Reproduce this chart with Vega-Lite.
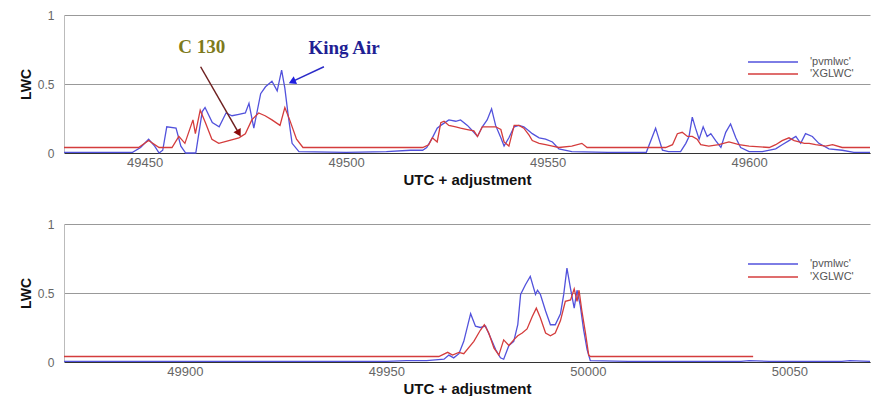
{
  "$schema": "https://vega.github.io/schema/vega-lite/v6.json",
  "padding": {"left": 19, "top": 9, "right": 0, "bottom": 0},
  "background": "white",
  "spacing": 71,
  "bounds": "flush",
  "resolve": {"scale": {"x": "independent", "y": "independent", "color": "independent"}, "legend": {"color": "independent"}},
  "config": {
    "view": {"stroke": null},
    "font": "Liberation Sans",
    "axis": {"labelColor": "#666", "titleColor": "#111", "titleFontWeight": "bold", "ticks": false, "grid": false},
    "line": {"strokeWidth": 1.3}
  },
  "datasets": {
    "top": [
      {"series": "'pvmlwc'", "t": 49430, "lwc": 0.005},
      {"series": "'pvmlwc'", "t": 49447, "lwc": 0.005},
      {"series": "'pvmlwc'", "t": 49449, "lwc": 0.04},
      {"series": "'pvmlwc'", "t": 49451, "lwc": 0.10},
      {"series": "'pvmlwc'", "t": 49452.5, "lwc": 0.05},
      {"series": "'pvmlwc'", "t": 49453.6, "lwc": 0.0},
      {"series": "'pvmlwc'", "t": 49454.5, "lwc": 0.02},
      {"series": "'pvmlwc'", "t": 49455.5, "lwc": 0.19},
      {"series": "'pvmlwc'", "t": 49457.8, "lwc": 0.18},
      {"series": "'pvmlwc'", "t": 49459, "lwc": 0.05},
      {"series": "'pvmlwc'", "t": 49460.2, "lwc": 0.0},
      {"series": "'pvmlwc'", "t": 49462.7, "lwc": 0.0},
      {"series": "'pvmlwc'", "t": 49464.3, "lwc": 0.30},
      {"series": "'pvmlwc'", "t": 49465, "lwc": 0.33},
      {"series": "'pvmlwc'", "t": 49466.8, "lwc": 0.22},
      {"series": "'pvmlwc'", "t": 49468.5, "lwc": 0.19},
      {"series": "'pvmlwc'", "t": 49470.2, "lwc": 0.29},
      {"series": "'pvmlwc'", "t": 49471.7, "lwc": 0.27},
      {"series": "'pvmlwc'", "t": 49473.4, "lwc": 0.28},
      {"series": "'pvmlwc'", "t": 49475, "lwc": 0.29},
      {"series": "'pvmlwc'", "t": 49475.9, "lwc": 0.36},
      {"series": "'pvmlwc'", "t": 49477.1, "lwc": 0.18},
      {"series": "'pvmlwc'", "t": 49478.8, "lwc": 0.43},
      {"series": "'pvmlwc'", "t": 49480, "lwc": 0.48},
      {"series": "'pvmlwc'", "t": 49481.6, "lwc": 0.52},
      {"series": "'pvmlwc'", "t": 49482.9, "lwc": 0.45},
      {"series": "'pvmlwc'", "t": 49484, "lwc": 0.60},
      {"series": "'pvmlwc'", "t": 49484.8, "lwc": 0.47},
      {"series": "'pvmlwc'", "t": 49485.6, "lwc": 0.28},
      {"series": "'pvmlwc'", "t": 49486.6, "lwc": 0.07},
      {"series": "'pvmlwc'", "t": 49488.3, "lwc": 0.01},
      {"series": "'pvmlwc'", "t": 49500, "lwc": 0.005},
      {"series": "'pvmlwc'", "t": 49510, "lwc": 0.01},
      {"series": "'pvmlwc'", "t": 49516, "lwc": 0.02},
      {"series": "'pvmlwc'", "t": 49519, "lwc": 0.02},
      {"series": "'pvmlwc'", "t": 49520, "lwc": 0.04},
      {"series": "'pvmlwc'", "t": 49521.4, "lwc": 0.11},
      {"series": "'pvmlwc'", "t": 49522.6, "lwc": 0.18},
      {"series": "'pvmlwc'", "t": 49523.5, "lwc": 0.20},
      {"series": "'pvmlwc'", "t": 49525.5, "lwc": 0.24},
      {"series": "'pvmlwc'", "t": 49527.2, "lwc": 0.23},
      {"series": "'pvmlwc'", "t": 49528.4, "lwc": 0.24},
      {"series": "'pvmlwc'", "t": 49530.1, "lwc": 0.20},
      {"series": "'pvmlwc'", "t": 49531.7, "lwc": 0.15},
      {"series": "'pvmlwc'", "t": 49532.6, "lwc": 0.12},
      {"series": "'pvmlwc'", "t": 49533.8, "lwc": 0.19},
      {"series": "'pvmlwc'", "t": 49535, "lwc": 0.24},
      {"series": "'pvmlwc'", "t": 49536.1, "lwc": 0.32},
      {"series": "'pvmlwc'", "t": 49537.1, "lwc": 0.20},
      {"series": "'pvmlwc'", "t": 49538.4, "lwc": 0.11},
      {"series": "'pvmlwc'", "t": 49539.2, "lwc": 0.05},
      {"series": "'pvmlwc'", "t": 49540.4, "lwc": 0.11},
      {"series": "'pvmlwc'", "t": 49541.7, "lwc": 0.19},
      {"series": "'pvmlwc'", "t": 49542.9, "lwc": 0.20},
      {"series": "'pvmlwc'", "t": 49544.1, "lwc": 0.19},
      {"series": "'pvmlwc'", "t": 49545.4, "lwc": 0.16},
      {"series": "'pvmlwc'", "t": 49546.2, "lwc": 0.14},
      {"series": "'pvmlwc'", "t": 49547.9, "lwc": 0.11},
      {"series": "'pvmlwc'", "t": 49549.5, "lwc": 0.10},
      {"series": "'pvmlwc'", "t": 49551.2, "lwc": 0.08},
      {"series": "'pvmlwc'", "t": 49552.8, "lwc": 0.03},
      {"series": "'pvmlwc'", "t": 49556, "lwc": 0.01},
      {"series": "'pvmlwc'", "t": 49565, "lwc": 0.005},
      {"series": "'pvmlwc'", "t": 49574.5, "lwc": 0.005},
      {"series": "'pvmlwc'", "t": 49576.8, "lwc": 0.18},
      {"series": "'pvmlwc'", "t": 49578.5, "lwc": 0.02},
      {"series": "'pvmlwc'", "t": 49580, "lwc": 0.01},
      {"series": "'pvmlwc'", "t": 49583, "lwc": 0.01},
      {"series": "'pvmlwc'", "t": 49584.3, "lwc": 0.07},
      {"series": "'pvmlwc'", "t": 49585.1, "lwc": 0.12},
      {"series": "'pvmlwc'", "t": 49585.9, "lwc": 0.26},
      {"series": "'pvmlwc'", "t": 49586.7, "lwc": 0.18},
      {"series": "'pvmlwc'", "t": 49587.6, "lwc": 0.10},
      {"series": "'pvmlwc'", "t": 49588.6, "lwc": 0.19},
      {"series": "'pvmlwc'", "t": 49589.6, "lwc": 0.12},
      {"series": "'pvmlwc'", "t": 49590.5, "lwc": 0.14},
      {"series": "'pvmlwc'", "t": 49591.7, "lwc": 0.09},
      {"series": "'pvmlwc'", "t": 49593, "lwc": 0.04},
      {"series": "'pvmlwc'", "t": 49594.2, "lwc": 0.15},
      {"series": "'pvmlwc'", "t": 49595.4, "lwc": 0.21},
      {"series": "'pvmlwc'", "t": 49596.7, "lwc": 0.11},
      {"series": "'pvmlwc'", "t": 49597.9, "lwc": 0.04},
      {"series": "'pvmlwc'", "t": 49600, "lwc": 0.01},
      {"series": "'pvmlwc'", "t": 49603.3, "lwc": 0.01},
      {"series": "'pvmlwc'", "t": 49606.6, "lwc": 0.03},
      {"series": "'pvmlwc'", "t": 49608.2, "lwc": 0.06},
      {"series": "'pvmlwc'", "t": 49609.9, "lwc": 0.09},
      {"series": "'pvmlwc'", "t": 49611.6, "lwc": 0.12},
      {"series": "'pvmlwc'", "t": 49612.8, "lwc": 0.07},
      {"series": "'pvmlwc'", "t": 49614, "lwc": 0.14},
      {"series": "'pvmlwc'", "t": 49615.7, "lwc": 0.12},
      {"series": "'pvmlwc'", "t": 49617.3, "lwc": 0.07},
      {"series": "'pvmlwc'", "t": 49619.8, "lwc": 0.03},
      {"series": "'pvmlwc'", "t": 49623.1, "lwc": 0.02},
      {"series": "'pvmlwc'", "t": 49626, "lwc": 0.005},
      {"series": "'pvmlwc'", "t": 49630, "lwc": 0.005},
      {"series": "'XGLWC'", "t": 49430, "lwc": 0.04},
      {"series": "'XGLWC'", "t": 49448.5, "lwc": 0.04},
      {"series": "'XGLWC'", "t": 49451, "lwc": 0.09},
      {"series": "'XGLWC'", "t": 49453.6, "lwc": 0.04},
      {"series": "'XGLWC'", "t": 49456.8, "lwc": 0.04},
      {"series": "'XGLWC'", "t": 49458.5, "lwc": 0.12},
      {"series": "'XGLWC'", "t": 49460, "lwc": 0.07},
      {"series": "'XGLWC'", "t": 49462, "lwc": 0.24},
      {"series": "'XGLWC'", "t": 49462.6, "lwc": 0.14},
      {"series": "'XGLWC'", "t": 49463.8, "lwc": 0.31},
      {"series": "'XGLWC'", "t": 49465.1, "lwc": 0.22},
      {"series": "'XGLWC'", "t": 49466.7, "lwc": 0.10},
      {"series": "'XGLWC'", "t": 49468.4, "lwc": 0.07},
      {"series": "'XGLWC'", "t": 49470.9, "lwc": 0.09},
      {"series": "'XGLWC'", "t": 49473.4, "lwc": 0.11},
      {"series": "'XGLWC'", "t": 49475, "lwc": 0.14},
      {"series": "'XGLWC'", "t": 49476.6, "lwc": 0.24},
      {"series": "'XGLWC'", "t": 49478.3, "lwc": 0.29},
      {"series": "'XGLWC'", "t": 49479.9, "lwc": 0.27},
      {"series": "'XGLWC'", "t": 49481.6, "lwc": 0.24},
      {"series": "'XGLWC'", "t": 49483.6, "lwc": 0.20},
      {"series": "'XGLWC'", "t": 49484.8, "lwc": 0.33},
      {"series": "'XGLWC'", "t": 49486, "lwc": 0.24},
      {"series": "'XGLWC'", "t": 49487.7, "lwc": 0.10},
      {"series": "'XGLWC'", "t": 49489.3, "lwc": 0.04},
      {"series": "'XGLWC'", "t": 49519, "lwc": 0.04},
      {"series": "'XGLWC'", "t": 49520.5, "lwc": 0.06},
      {"series": "'XGLWC'", "t": 49521.4, "lwc": 0.11},
      {"series": "'XGLWC'", "t": 49522.6, "lwc": 0.08},
      {"series": "'XGLWC'", "t": 49523.5, "lwc": 0.22},
      {"series": "'XGLWC'", "t": 49524.3, "lwc": 0.23},
      {"series": "'XGLWC'", "t": 49525.5, "lwc": 0.20},
      {"series": "'XGLWC'", "t": 49527.2, "lwc": 0.19},
      {"series": "'XGLWC'", "t": 49528.4, "lwc": 0.18},
      {"series": "'XGLWC'", "t": 49530.1, "lwc": 0.17},
      {"series": "'XGLWC'", "t": 49531.7, "lwc": 0.16},
      {"series": "'XGLWC'", "t": 49532.6, "lwc": 0.12},
      {"series": "'XGLWC'", "t": 49533.8, "lwc": 0.19},
      {"series": "'XGLWC'", "t": 49535, "lwc": 0.19},
      {"series": "'XGLWC'", "t": 49536.1, "lwc": 0.19},
      {"series": "'XGLWC'", "t": 49537.1, "lwc": 0.19},
      {"series": "'XGLWC'", "t": 49538.4, "lwc": 0.17},
      {"series": "'XGLWC'", "t": 49539.2, "lwc": 0.08},
      {"series": "'XGLWC'", "t": 49540.4, "lwc": 0.05},
      {"series": "'XGLWC'", "t": 49541.7, "lwc": 0.20},
      {"series": "'XGLWC'", "t": 49542.9, "lwc": 0.20},
      {"series": "'XGLWC'", "t": 49544.1, "lwc": 0.18},
      {"series": "'XGLWC'", "t": 49545.4, "lwc": 0.13},
      {"series": "'XGLWC'", "t": 49546.2, "lwc": 0.09},
      {"series": "'XGLWC'", "t": 49547.9, "lwc": 0.07},
      {"series": "'XGLWC'", "t": 49549.5, "lwc": 0.06},
      {"series": "'XGLWC'", "t": 49551.2, "lwc": 0.05},
      {"series": "'XGLWC'", "t": 49552.8, "lwc": 0.04},
      {"series": "'XGLWC'", "t": 49556, "lwc": 0.05},
      {"series": "'XGLWC'", "t": 49558.5, "lwc": 0.07},
      {"series": "'XGLWC'", "t": 49559.8, "lwc": 0.04},
      {"series": "'XGLWC'", "t": 49579.3, "lwc": 0.04},
      {"series": "'XGLWC'", "t": 49581, "lwc": 0.06},
      {"series": "'XGLWC'", "t": 49582.2, "lwc": 0.14},
      {"series": "'XGLWC'", "t": 49583.4, "lwc": 0.15},
      {"series": "'XGLWC'", "t": 49584.7, "lwc": 0.12},
      {"series": "'XGLWC'", "t": 49585.9, "lwc": 0.12},
      {"series": "'XGLWC'", "t": 49587.1, "lwc": 0.10},
      {"series": "'XGLWC'", "t": 49588, "lwc": 0.06},
      {"series": "'XGLWC'", "t": 49590, "lwc": 0.05},
      {"series": "'XGLWC'", "t": 49592.5, "lwc": 0.06},
      {"series": "'XGLWC'", "t": 49595, "lwc": 0.08},
      {"series": "'XGLWC'", "t": 49597.5, "lwc": 0.06},
      {"series": "'XGLWC'", "t": 49600, "lwc": 0.05},
      {"series": "'XGLWC'", "t": 49605, "lwc": 0.04},
      {"series": "'XGLWC'", "t": 49606.6, "lwc": 0.06},
      {"series": "'XGLWC'", "t": 49608.2, "lwc": 0.09},
      {"series": "'XGLWC'", "t": 49609.9, "lwc": 0.11},
      {"series": "'XGLWC'", "t": 49611.2, "lwc": 0.09},
      {"series": "'XGLWC'", "t": 49612.4, "lwc": 0.08},
      {"series": "'XGLWC'", "t": 49613.7, "lwc": 0.07},
      {"series": "'XGLWC'", "t": 49614.9, "lwc": 0.07},
      {"series": "'XGLWC'", "t": 49616.5, "lwc": 0.06},
      {"series": "'XGLWC'", "t": 49619, "lwc": 0.05},
      {"series": "'XGLWC'", "t": 49620.7, "lwc": 0.06},
      {"series": "'XGLWC'", "t": 49623.1, "lwc": 0.04},
      {"series": "'XGLWC'", "t": 49630, "lwc": 0.04}
    ],
    "bottom": [
      {"series": "'pvmlwc'", "t": 49870, "lwc": 0.005},
      {"series": "'pvmlwc'", "t": 49920, "lwc": 0.005},
      {"series": "'pvmlwc'", "t": 49950, "lwc": 0.005},
      {"series": "'pvmlwc'", "t": 49955, "lwc": 0.01},
      {"series": "'pvmlwc'", "t": 49960, "lwc": 0.01},
      {"series": "'pvmlwc'", "t": 49964.3, "lwc": 0.02},
      {"series": "'pvmlwc'", "t": 49965.5, "lwc": 0.05},
      {"series": "'pvmlwc'", "t": 49966.7, "lwc": 0.03},
      {"series": "'pvmlwc'", "t": 49968, "lwc": 0.06},
      {"series": "'pvmlwc'", "t": 49969.2, "lwc": 0.15},
      {"series": "'pvmlwc'", "t": 49970.9, "lwc": 0.35},
      {"series": "'pvmlwc'", "t": 49972.1, "lwc": 0.26},
      {"series": "'pvmlwc'", "t": 49973.3, "lwc": 0.25},
      {"series": "'pvmlwc'", "t": 49974.6, "lwc": 0.26},
      {"series": "'pvmlwc'", "t": 49975.8, "lwc": 0.18},
      {"series": "'pvmlwc'", "t": 49977.1, "lwc": 0.09},
      {"series": "'pvmlwc'", "t": 49978.3, "lwc": 0.03},
      {"series": "'pvmlwc'", "t": 49979.1, "lwc": 0.02},
      {"series": "'pvmlwc'", "t": 49980.4, "lwc": 0.12},
      {"series": "'pvmlwc'", "t": 49981.6, "lwc": 0.15},
      {"series": "'pvmlwc'", "t": 49982.6, "lwc": 0.27},
      {"series": "'pvmlwc'", "t": 49983.3, "lwc": 0.49},
      {"series": "'pvmlwc'", "t": 49984.5, "lwc": 0.56},
      {"series": "'pvmlwc'", "t": 49985.7, "lwc": 0.62},
      {"series": "'pvmlwc'", "t": 49987, "lwc": 0.49},
      {"series": "'pvmlwc'", "t": 49987.5, "lwc": 0.52},
      {"series": "'pvmlwc'", "t": 49988.2, "lwc": 0.49},
      {"series": "'pvmlwc'", "t": 49989.5, "lwc": 0.37},
      {"series": "'pvmlwc'", "t": 49990.7, "lwc": 0.27},
      {"series": "'pvmlwc'", "t": 49991.9, "lwc": 0.27},
      {"series": "'pvmlwc'", "t": 49993.2, "lwc": 0.35},
      {"series": "'pvmlwc'", "t": 49994, "lwc": 0.49},
      {"series": "'pvmlwc'", "t": 49994.8, "lwc": 0.68},
      {"series": "'pvmlwc'", "t": 49995.7, "lwc": 0.53},
      {"series": "'pvmlwc'", "t": 49996.6, "lwc": 0.39},
      {"series": "'pvmlwc'", "t": 49997.3, "lwc": 0.52},
      {"series": "'pvmlwc'", "t": 49998.1, "lwc": 0.41},
      {"series": "'pvmlwc'", "t": 49998.9, "lwc": 0.24},
      {"series": "'pvmlwc'", "t": 49999.8, "lwc": 0.09},
      {"series": "'pvmlwc'", "t": 50000.6, "lwc": 0.01},
      {"series": "'pvmlwc'", "t": 50010, "lwc": 0.005},
      {"series": "'pvmlwc'", "t": 50038, "lwc": 0.005},
      {"series": "'pvmlwc'", "t": 50040, "lwc": 0.01},
      {"series": "'pvmlwc'", "t": 50045, "lwc": 0.005},
      {"series": "'pvmlwc'", "t": 50063, "lwc": 0.005},
      {"series": "'pvmlwc'", "t": 50065, "lwc": 0.01},
      {"series": "'pvmlwc'", "t": 50070, "lwc": 0.005},
      {"series": "'XGLWC'", "t": 49870, "lwc": 0.04},
      {"series": "'XGLWC'", "t": 49963, "lwc": 0.04},
      {"series": "'XGLWC'", "t": 49965.2, "lwc": 0.07},
      {"series": "'XGLWC'", "t": 49966.4, "lwc": 0.05},
      {"series": "'XGLWC'", "t": 49968, "lwc": 0.07},
      {"series": "'XGLWC'", "t": 49969.2, "lwc": 0.06},
      {"series": "'XGLWC'", "t": 49971.7, "lwc": 0.15},
      {"series": "'XGLWC'", "t": 49973.3, "lwc": 0.23},
      {"series": "'XGLWC'", "t": 49974.3, "lwc": 0.27},
      {"series": "'XGLWC'", "t": 49975.4, "lwc": 0.21},
      {"series": "'XGLWC'", "t": 49976.7, "lwc": 0.10},
      {"series": "'XGLWC'", "t": 49977.9, "lwc": 0.05},
      {"series": "'XGLWC'", "t": 49979.1, "lwc": 0.16},
      {"series": "'XGLWC'", "t": 49980.4, "lwc": 0.12},
      {"series": "'XGLWC'", "t": 49981.6, "lwc": 0.16},
      {"series": "'XGLWC'", "t": 49982.6, "lwc": 0.19},
      {"series": "'XGLWC'", "t": 49983.7, "lwc": 0.21},
      {"series": "'XGLWC'", "t": 49984.9, "lwc": 0.24},
      {"series": "'XGLWC'", "t": 49986.2, "lwc": 0.33},
      {"series": "'XGLWC'", "t": 49987.2, "lwc": 0.39},
      {"series": "'XGLWC'", "t": 49988.2, "lwc": 0.32},
      {"series": "'XGLWC'", "t": 49989.5, "lwc": 0.21},
      {"series": "'XGLWC'", "t": 49990.7, "lwc": 0.19},
      {"series": "'XGLWC'", "t": 49991.9, "lwc": 0.21},
      {"series": "'XGLWC'", "t": 49993.2, "lwc": 0.30},
      {"series": "'XGLWC'", "t": 49994.4, "lwc": 0.44},
      {"series": "'XGLWC'", "t": 49995.7, "lwc": 0.45},
      {"series": "'XGLWC'", "t": 49996.6, "lwc": 0.53},
      {"series": "'XGLWC'", "t": 49997.3, "lwc": 0.44},
      {"series": "'XGLWC'", "t": 49997.8, "lwc": 0.52},
      {"series": "'XGLWC'", "t": 49998.5, "lwc": 0.37},
      {"series": "'XGLWC'", "t": 49999.4, "lwc": 0.21},
      {"series": "'XGLWC'", "t": 50000.2, "lwc": 0.05},
      {"series": "'XGLWC'", "t": 50000.6, "lwc": 0.04},
      {"series": "'XGLWC'", "t": 50041, "lwc": 0.04}
    ],
    "labels": [
      {"name": "C 130", "t": 49464.2, "lwc": 0.77},
      {"name": "King Air", "t": 49499.5, "lwc": 0.76}
    ],
    "arrows": [
      {"name": "C 130", "t": 49463.9, "lwc": 0.625, "t2": 49473.4, "lwc2": 0.143},
      {"name": "King Air", "t": 49494.5, "lwc": 0.625, "t2": 49486.6, "lwc2": 0.517}
    ]
  },
  "vconcat": [
    {
      "width": 806,
      "height": 138,
      "layer": [
        {
          "data": {"name": "top"},
          "mark": {"type": "line", "strokeWidth": 1.3},
          "encoding": {
            "x": {"field": "t", "type": "quantitative", "scale": {"domain": [49430, 49630], "nice": false, "zero": false},
              "axis": {"title": "UTC + adjustment", "values": [49450, 49500, 49550, 49600], "format": "d", "labelFontSize": 13, "labelPadding": 3, "titleFontSize": 15, "titlePadding": 3, "domainColor": "#333"}},
            "y": {"field": "lwc", "type": "quantitative", "scale": {"domain": [0, 1], "nice": false},
              "axis": {"title": "LWC", "values": [0, 0.5, 1], "format": "~g", "grid": true, "gridColor": "#999", "domainColor": "#bbb", "labelFontSize": 12, "labelPadding": 10, "titleFontSize": 14, "titlePadding": 4}},
            "color": {"field": "series", "type": "nominal",
              "scale": {"domain": ["'pvmlwc'", "'XGLWC'"], "range": ["#5252dc", "#d43c3c"]},
              "legend": {"orient": "none", "legendX": 683, "legendY": 41, "title": null, "symbolType": "M-1,0H9", "symbolSize": 100, "symbolStrokeWidth": 1.3, "symbolFillColor": "transparent", "labelFontSize": 11, "labelColor": "#555", "labelOffset": 51, "rowPadding": 1, "padding": 0}}
          }
        },
        {
          "data": {"name": "arrows"},
          "transform": [{"filter": "datum.name == 'C 130'"}],
          "mark": {"type": "rule", "color": "#6e2020", "strokeWidth": 1.5},
          "encoding": {
            "x": {"field": "t", "type": "quantitative"},
            "y": {"field": "lwc", "type": "quantitative"},
            "x2": {"field": "t2"},
            "y2": {"field": "lwc2"}
          }
        },
        {
          "data": {"name": "arrows"},
          "transform": [{"filter": "datum.name == 'C 130'"}],
          "mark": {"type": "point", "shape": "triangle-up", "filled": true, "color": "#8b0a0a", "opacity": 1, "size": 70, "angle": 150},
          "encoding": {
            "x": {"field": "t2", "type": "quantitative"},
            "y": {"field": "lwc2", "type": "quantitative"}
          }
        },
        {
          "data": {"name": "arrows"},
          "transform": [{"filter": "datum.name == 'King Air'"}],
          "mark": {"type": "rule", "color": "#2b2bc8", "strokeWidth": 1.5},
          "encoding": {
            "x": {"field": "t", "type": "quantitative"},
            "y": {"field": "lwc", "type": "quantitative"},
            "x2": {"field": "t2"},
            "y2": {"field": "lwc2"}
          }
        },
        {
          "data": {"name": "arrows"},
          "transform": [{"filter": "datum.name == 'King Air'"}],
          "mark": {"type": "point", "shape": "triangle-up", "filled": true, "color": "#1e1ee0", "opacity": 1, "size": 70, "angle": 246},
          "encoding": {
            "x": {"field": "t2", "type": "quantitative"},
            "y": {"field": "lwc2", "type": "quantitative"}
          }
        },
        {
          "data": {"name": "labels"},
          "transform": [{"filter": "datum.name == 'C 130'"}],
          "mark": {"type": "text", "font": "Liberation Serif", "fontWeight": "bold", "fontSize": 19, "color": "#7d7a1c"},
          "encoding": {
            "x": {"field": "t", "type": "quantitative"},
            "y": {"field": "lwc", "type": "quantitative"},
            "text": {"field": "name"}
          }
        },
        {
          "data": {"name": "labels"},
          "transform": [{"filter": "datum.name == 'King Air'"}],
          "mark": {"type": "text", "font": "Liberation Serif", "fontWeight": "bold", "fontSize": 19, "color": "#1f1f94"},
          "encoding": {
            "x": {"field": "t", "type": "quantitative"},
            "y": {"field": "lwc", "type": "quantitative"},
            "text": {"field": "name"}
          }
        }
      ]
    },
    {
      "width": 806,
      "height": 138,
      "data": {"name": "bottom"},
      "mark": {"type": "line", "strokeWidth": 1.3},
      "encoding": {
        "x": {"field": "t", "type": "quantitative", "scale": {"domain": [49870, 50070], "nice": false, "zero": false},
          "axis": {"title": "UTC + adjustment", "values": [49900, 49950, 50000, 50050], "format": "d", "labelFontSize": 13, "labelPadding": 3, "titleFontSize": 15, "titlePadding": 3, "domainColor": "#333"}},
        "y": {"field": "lwc", "type": "quantitative", "scale": {"domain": [0, 1], "nice": false},
          "axis": {"title": "LWC", "values": [0, 0.5, 1], "format": "~g", "grid": true, "gridColor": "#999", "domainColor": "#bbb", "labelFontSize": 12, "labelPadding": 10, "titleFontSize": 14, "titlePadding": 4}},
        "color": {"field": "series", "type": "nominal",
          "scale": {"domain": ["'pvmlwc'", "'XGLWC'"], "range": ["#5252dc", "#d43c3c"]},
          "legend": {"orient": "none", "legendX": 683, "legendY": 34, "title": null, "symbolType": "M-1,0H9", "symbolSize": 100, "symbolStrokeWidth": 1.3, "symbolFillColor": "transparent", "labelFontSize": 11, "labelColor": "#555", "labelOffset": 51, "rowPadding": 2, "padding": 0}}
      }
    }
  ]
}
